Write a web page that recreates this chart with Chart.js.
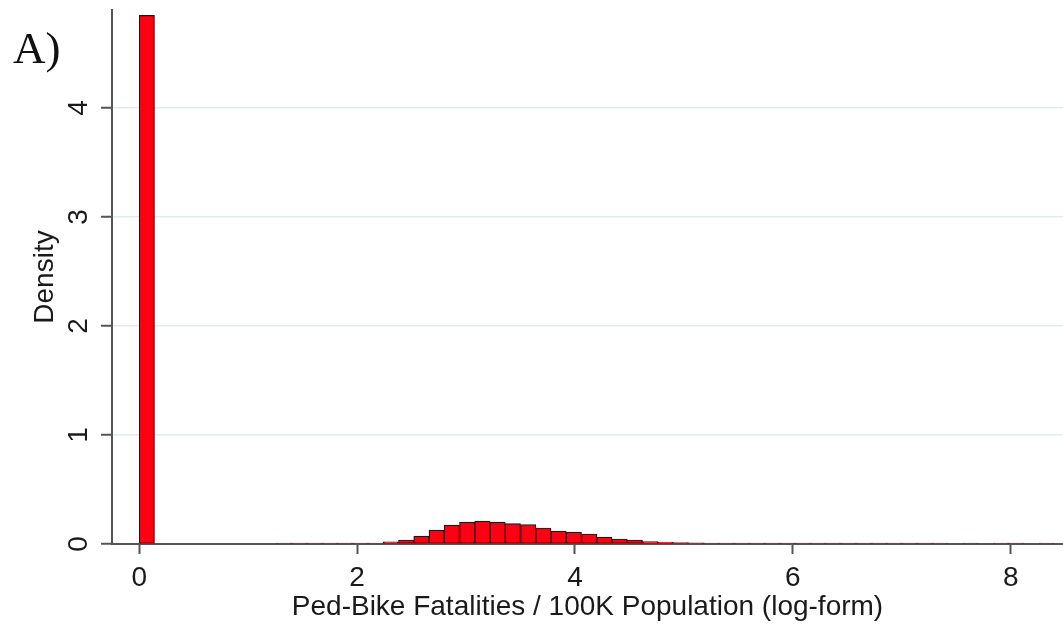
<!DOCTYPE html>
<html>
<head>
<meta charset="utf-8">
<script src="https://cdn.jsdelivr.net/npm/chart.js@4.4.1/dist/chart.umd.min.js"></script>
<style>
  html, body { margin: 0; padding: 0; background: #fff; }
  #wrap { position: relative; width: 1063px; height: 630px; }
  #panel { position: absolute; left: 13px; top: 22px; font: 45px "Liberation Serif", serif; color: #111; }
</style>
</head>
<body>
<div id="wrap">
  <canvas id="hist" width="1063" height="630"></canvas>
  <div id="panel">A)</div>
</div>
<script>
// histogram bins: left edge of bin 0 and common width (log-form units)
const binStart = 0;
const binWidth = 0.14;
// density per bin
const densities = [
  4.85, 0, 0, 0, 0, 0, 0, 0, 0, 0.009,
  0.009, 0.009, 0.009, 0.009, 0.009, 0.009, 0.02, 0.037, 0.073, 0.128,
  0.174, 0.200, 0.210, 0.200, 0.188, 0.179, 0.147, 0.119, 0.110, 0.092,
  0.064, 0.046, 0.037, 0.023, 0.018, 0.012, 0.01, 0.009, 0.009, 0.009,
  0.009, 0.009, 0.009, 0.009, 0.009, 0.009, 0.009, 0.009, 0.009, 0.009,
  0.009, 0.009, 0.009, 0, 0.008, 0, 0.008, 0.008, 0, 0.008
];
const xTicks = [0, 2, 4, 6, 8];
const yTicks = [0, 1, 2, 3, 4];
const xRange = [-0.25, 8.48];
const yRange = [0, 4.9];

const textFont = { family: "'Liberation Sans', Arial, sans-serif", size: 28 };
const axisColor = '#555';

const points = densities
  .map((d, k) => ({ x: binStart + (k + 0.5) * binWidth, y: d }))
  .filter(p => p.y > 0);

new Chart(document.getElementById('hist'), {
  type: 'bar',
  data: {
    datasets: [{
      data: points,
      backgroundColor: '#ff0012',
      borderColor: '#4a0006',
      borderWidth: 1.2,
      borderSkipped: false,
      barPercentage: 1,
      categoryPercentage: 1,
    }],
  },
  options: {
    responsive: false,
    animation: false,
    layout: { padding: { top: 10, right: 0, left: 0, bottom: 0 } },
    plugins: { legend: { display: false }, tooltip: { enabled: false } },
    scales: {
      x: {
        type: 'linear',
        min: xRange[0],
        max: xRange[1],
        offset: false,
        afterBuildTicks: s => { s.ticks = xTicks.map(v => ({ value: v })); },
        afterFit: s => { s.height = 86; s.paddingLeft = 0; s.paddingRight = 0; },
        grid: { offset: false, drawOnChartArea: false, drawTicks: true, tickLength: 10, tickColor: axisColor, tickWidth: 2 },
        border: { color: axisColor, width: 2 },
        ticks: { color: '#1a1a1a', font: textFont, padding: 7, maxRotation: 0 },
        title: {
          display: true,
          text: 'Ped-Bike Fatalities / 100K Population (log-form)',
          color: '#1a1a1a',
          font: textFont,
          padding: { top: 0, bottom: 6 },
        },
      },
      y: {
        min: yRange[0],
        max: yRange[1],
        afterBuildTicks: s => { s.ticks = yTicks.map(v => ({ value: v })); },
        afterFit: s => { s.width = 112; s.paddingTop = 0; s.paddingBottom = 0; },
        grid: {
          color: c => (c.tick && c.tick.value === 0 ? 'rgba(0,0,0,0)' : '#e2ebec'),
          lineWidth: 1.5,
          drawTicks: true,
          tickLength: 11,
          tickColor: axisColor,
          tickWidth: 2,
        },
        border: { color: axisColor, width: 2 },
        ticks: {
          color: '#1a1a1a',
          font: textFont,
          padding: 14,
          minRotation: 90,
          maxRotation: 90,
          crossAlign: 'center',
        },
        title: {
          display: true,
          text: 'Density',
          color: '#1a1a1a',
          font: textFont,
          padding: { top: 28, bottom: 0 },
        },
      },
    },
  },
});
</script>
</body>
</html>
